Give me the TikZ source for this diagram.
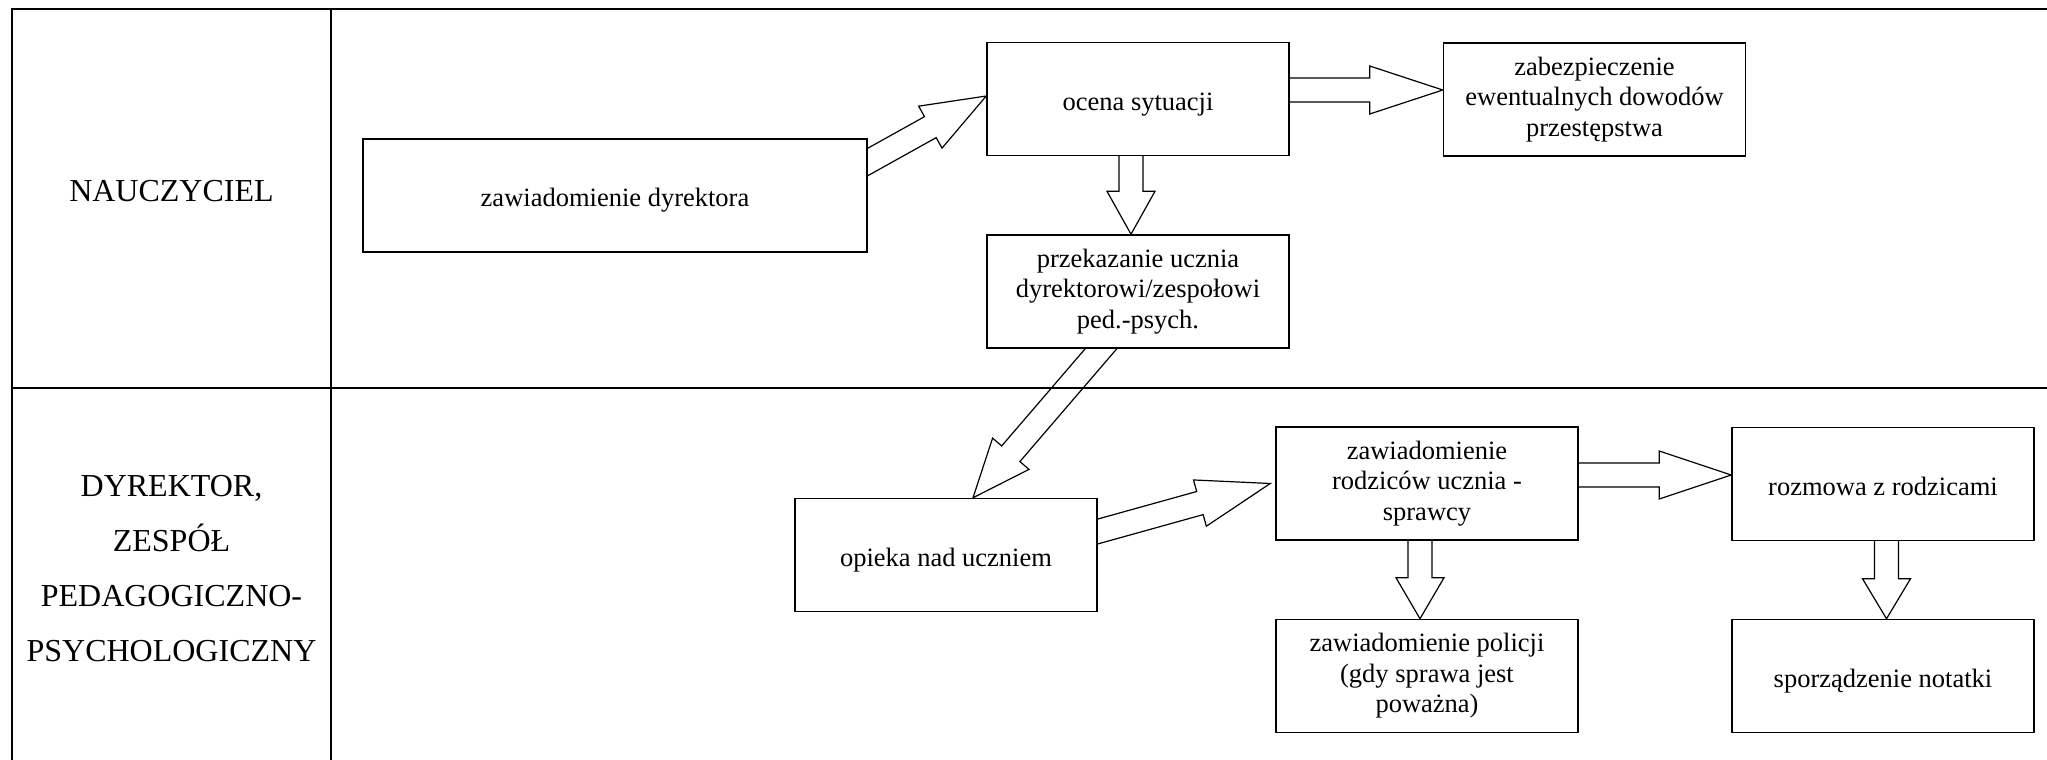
\documentclass[tikz,border=0pt]{standalone}
\usepackage{fontspec}
\setmainfont{Liberation Serif}
\usetikzlibrary{calc,backgrounds}
% block arrow: #1 start (where shaft leaves source box), #2 tip, #3 head length
\newcommand\blockarrow[3]{%
  \coordinate (baA) at ($(#1)!-20pt!(#2)$);
  \coordinate (baH) at ($(#2)!#3!(#1)$);
  \draw[arr] ($(baA)!6pt!90:(#2)$) -- ($(baH)!6pt!90:(#2)$) -- ($(baH)!12pt!90:(#2)$)
    -- (#2) -- ($(baH)!12pt!-90:(#2)$) -- ($(baH)!6pt!-90:(#2)$) -- ($(baA)!6pt!-90:(#2)$) -- cycle;
}
\begin{document}
\begin{tikzpicture}[x=0.5pt,y=-0.5pt,
  box/.style={draw, line width=0.75pt, fill=white, inner sep=0pt, minimum width=151pt,
    minimum height=56.5pt, align=center, font=\fontsize{13.25}{15.25}\selectfont,
    execute at begin node={\rule{0pt}{14pt}},
    execute at end node={\rule[-2.9pt]{0pt}{2.9pt}}},
  lab/.style={inner sep=0pt, align=center, font=\fontsize{16}{27.5}\selectfont},
  tab/.style={line width=1pt},
  arr/.style={line width=0.6pt, fill=white, line join=miter}]
\useasboundingbox (0,0) rectangle (2047,760);

% table
\draw[tab] (2047,9.3) -- (12.3,9.3) -- (12.3,760);
\draw[tab] (331,9.3) -- (331,760);
\draw[tab] (12.3,387.7) -- (2047,387.7);

% lane labels
\node[lab, anchor=base] (l1) at (171.5,201) {NAUCZYCIEL};
\node[lab] (l2) at (171.5,569) {DYREKTOR,\\ZESPÓŁ\\PEDAGOGICZNO-\\PSYCHOLOGICZNY};

% boxes
\node[box, minimum width=252pt] (zd) at (615,195.5) {zawiadomienie dyrektora};
\node[box] (oc) at (1138,99) {ocena sytuacji};
\node[box] (zb) at (1594.5,99.5) {zabezpieczenie\\ewentualnych dowodów\\przestępstwa};
\node[box] (pr) at (1138,291.5) {przekazanie ucznia\\dyrektorowi/zespołowi\\ped.-psych.};
\node[box] (op) at (946,555) {opieka nad uczniem};
\node[box] (ro) at (1427,483.5) {zawiadomienie\\rodziców ucznia -\\sprawcy};
\node[box] (rz) at (1883,484) {rozmowa z rodzicami};
\node[box] (po) at (1427,676) {zawiadomienie policji\\(gdy sprawa jest\\poważna)};
\node[box] (no) at (1883,676) {sporządzenie notatki};

% arrow end points
\coordinate (s1) at ($(zd.east)+(0,-33.5)$);  \coordinate (t1) at ($(oc.west)+(0,-3)$);
\coordinate (s2) at ($(oc.east)+(0,-9)$);     \coordinate (t2) at ($(zb.west)+(0,-9.5)$);
\coordinate (s3) at ($(oc.south)+(-7,0)$);    \coordinate (t3) at ($(pr.north)+(-7,0)$);
\coordinate (s4) at ($(pr.south)+(-37,0)$);   \coordinate (t4) at ($(op.north)+(27,0)$);
\coordinate (s5) at ($(op.east)+(0,-23.5)$);  \coordinate (t5) at ($(ro.west)+(-5,0)$);
\coordinate (s6) at ($(ro.east)+(0,-8.5)$);   \coordinate (t6) at ($(rz.west)+(0,-9)$);
\coordinate (s7) at ($(ro.south)+(-7,0)$);    \coordinate (t7) at ($(po.north)+(-7,0)$);
\coordinate (s8) at ($(rz.south)+(3.5,0)$);   \coordinate (t8) at ($(no.north)+(3.5,0)$);

\begin{pgfonlayer}{background}
\blockarrow{s1}{t1}{32pt}
\blockarrow{s2}{t2}{36.5pt}
\blockarrow{s3}{t3}{21.5pt}
\blockarrow{s4}{t4}{29pt}
\blockarrow{s5}{t5}{36.5pt}
\blockarrow{s6}{t6}{36pt}
\blockarrow{s7}{t7}{20.5pt}
\blockarrow{s8}{t8}{20pt}
\end{pgfonlayer}
\end{tikzpicture}
\end{document}
